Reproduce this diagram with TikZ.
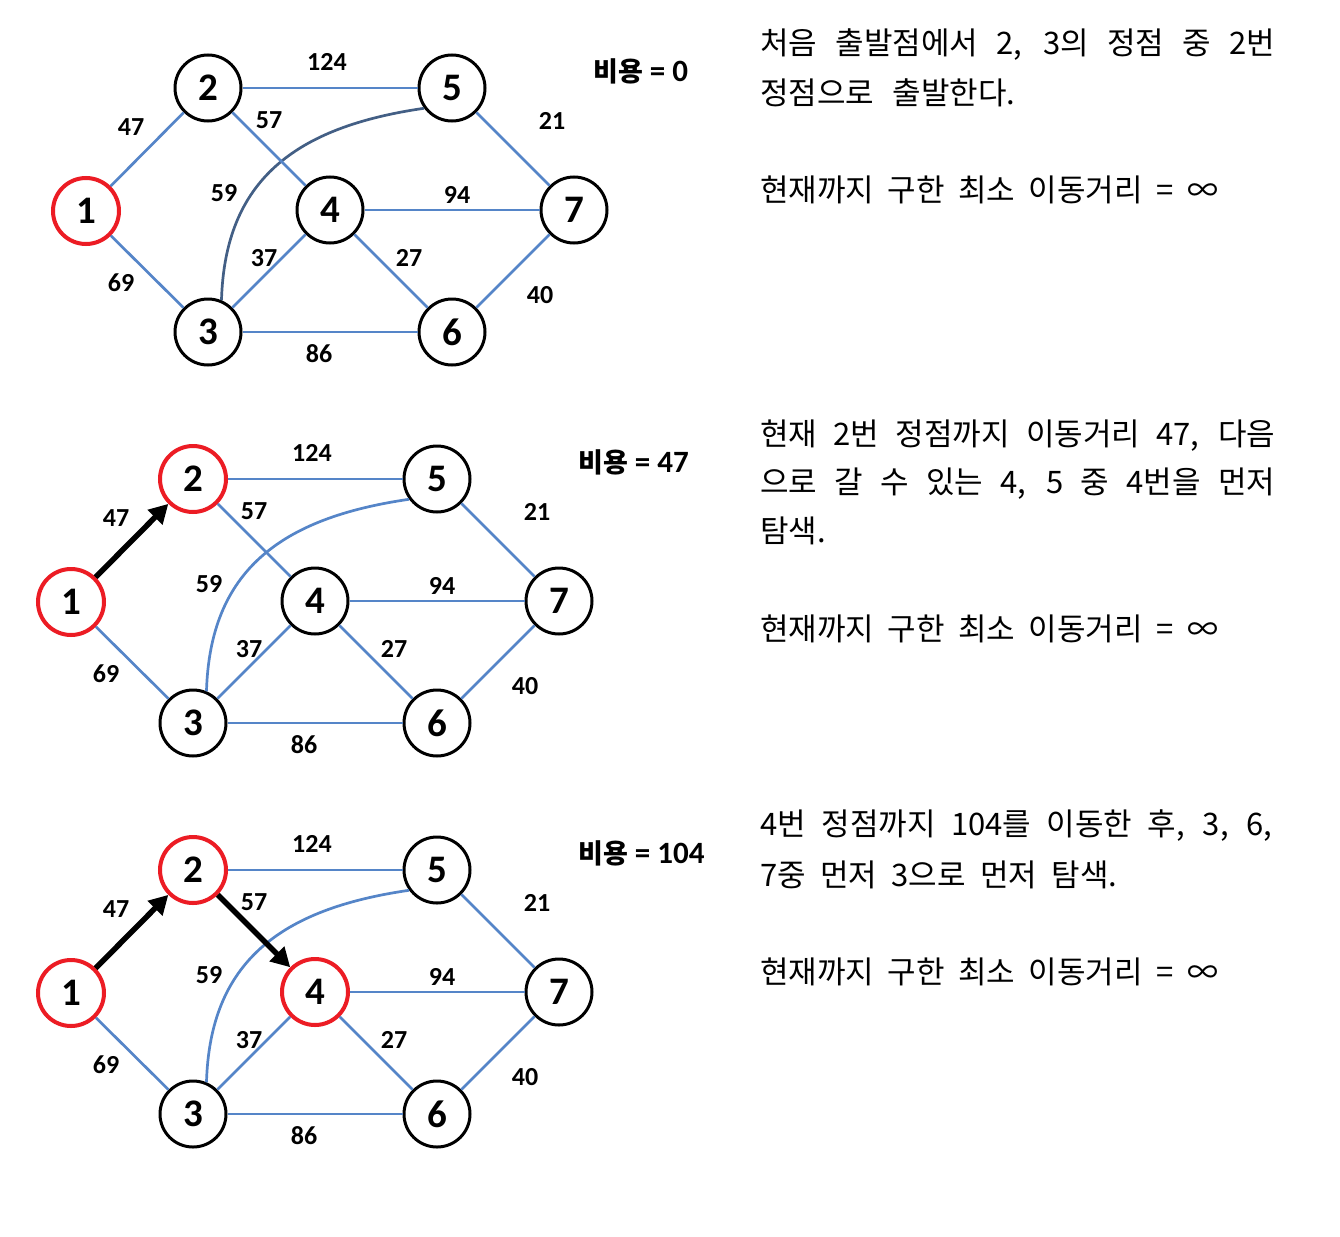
\documentclass[tikz,border=0pt]{standalone}
\usepackage{fontspec}
\setmainfont{Carlito}
\newfontfamily\cjk{Noto Sans CJK KR}
\usetikzlibrary{arrows.meta}
\definecolor{edgeblue}{HTML}{5585C8}
\definecolor{curvedark}{HTML}{435F85}
\definecolor{nodered}{HTML}{EC1C24}
\tikzset{
 vtx/.style={circle, draw=black, line width=3pt, minimum size=66pt, inner sep=0pt, font=\fontsize{39}{41}\selectfont\bfseries, fill=white},
 vred/.style={vtx, draw=nodered, line width=4pt},
 gedge/.style={draw=edgeblue, line width=2.7pt},
 wlabel/.style={font=\fontsize{26}{28}\selectfont\bfseries, inner sep=0pt},
 cost/.style={anchor=west, font=\fontsize{31}{33}\selectfont\bfseries, inner sep=0pt},
 moveedge/.style={draw=black, line width=5.5pt, -{Triangle[length=19pt,width=20pt]}},
 desc/.style={anchor=west, inner sep=0pt, font=\cjk\fontsize{31}{34}\selectfont},
}
\newcommand\graphpanel[8]{%
 \begin{scope}[shift={(#2,#3)}]
 \node[#4] (#1n1) at (86,211) {1};
 \node[#5] (#1n2) at (208,88) {2};
 \node[vtx] (#1n3) at (208,332) {3};
 \node[#6] (#1n4) at (330,210) {4};
 \node[vtx] (#1n5) at (452,88) {5};
 \node[vtx] (#1n6) at (452,332) {6};
 \node[vtx] (#1n7) at (574,210) {7};
 \draw[gedge] (#1n1) -- (#1n3);
 \draw[gedge] (#1n2) -- (#1n5);
 \draw[gedge] (#1n3) -- (#1n4);
 \draw[gedge] (#1n3) -- (#1n6);
 \draw[gedge] (#1n4) -- (#1n7);
 \draw[gedge] (#1n4) -- (#1n6);
 \draw[gedge] (#1n5) -- (#1n7);
 \draw[gedge] (#1n6) -- (#1n7);
 \draw[draw=#7, line width=2.7pt] (#1n3.67) .. controls (225,180) and (295,127) .. (#1n5.216);
 \node[wlabel] (#1l124) at (327,62) {124};
 \node[wlabel] (#1l57) at (269,120) {57};
 \node[wlabel] (#1l47) at (131,127) {47};
 \node[wlabel] (#1l21) at (552,121) {21};
 \node[wlabel] (#1l59) at (224,193) {59};
 \node[wlabel] (#1l94) at (457,195) {94};
 \node[wlabel] (#1l37) at (264,258) {37};
 \node[wlabel] (#1l27) at (409,258) {27};
 \node[wlabel] (#1l69) at (121,283) {69};
 \node[wlabel] (#1l40) at (540,295) {40};
 \node[wlabel] (#1l86) at (319,354) {86};
 \node[cost] (#1cost) at (593,71) {{\cjk\bfseries\fontsize{27}{29}\selectfont 비용} = #8};
 \end{scope}}
\begin{document}
\begin{tikzpicture}[x=1pt,y=-1pt]
\useasboundingbox (0,0) rectangle (1340,1236);
\fill[white] (0,0) rectangle (1340,1236);
% panel 1
\graphpanel{a}{0}{0}{vred}{vtx}{vtx}{curvedark}{0}
\draw[gedge] (an1) -- (an2);
\draw[gedge] (an2) -- (an4);
% panel 2
\graphpanel{b}{-15}{391}{vred}{vred}{vtx}{edgeblue}{47}
\draw[gedge] (bn2) -- (bn4);
\draw[moveedge] (bn1) -- (bn2);
% panel 3
\graphpanel{c}{-15}{782}{vred}{vred}{vred}{edgeblue}{104}
\draw[moveedge] (cn1) -- (cn2);
\draw[moveedge] (cn2) -- (cn4);
% descriptions
\node[desc] (t1) at (760,45) {\makebox[515pt][s]{처음 출발점에서 2, 3의 정점 중 2번}};
\node[desc] (t2) at (760,93) {\makebox[255pt][s]{정점으로 출발한다.}};
\node[desc] (t3) at (760,190) {\makebox[458pt][s]{현재까지 구한 최소 이동거리 = ∞}};
\node[desc] (t4) at (760,436) {\makebox[515pt][s]{현재 2번 정점까지 이동거리 47, 다음}};
\node[desc] (t5) at (760,484) {\makebox[515pt][s]{으로 갈 수 있는 4, 5 중 4번을 먼저}};
\node[desc] (t6) at (760,531) {탐색.};
\node[desc] (t7) at (760,629) {\makebox[458pt][s]{현재까지 구한 최소 이동거리 = ∞}};
\node[desc] (t8) at (760,826) {\makebox[512pt][s]{4번 정점까지 104를 이동한 후, 3, 6,}};
\node[desc] (t9) at (760,875) {\makebox[357pt][s]{7중 먼저 3으로 먼저 탐색.}};
\node[desc] (t10) at (760,972) {\makebox[458pt][s]{현재까지 구한 최소 이동거리 = ∞}};
\end{tikzpicture}
\end{document}
